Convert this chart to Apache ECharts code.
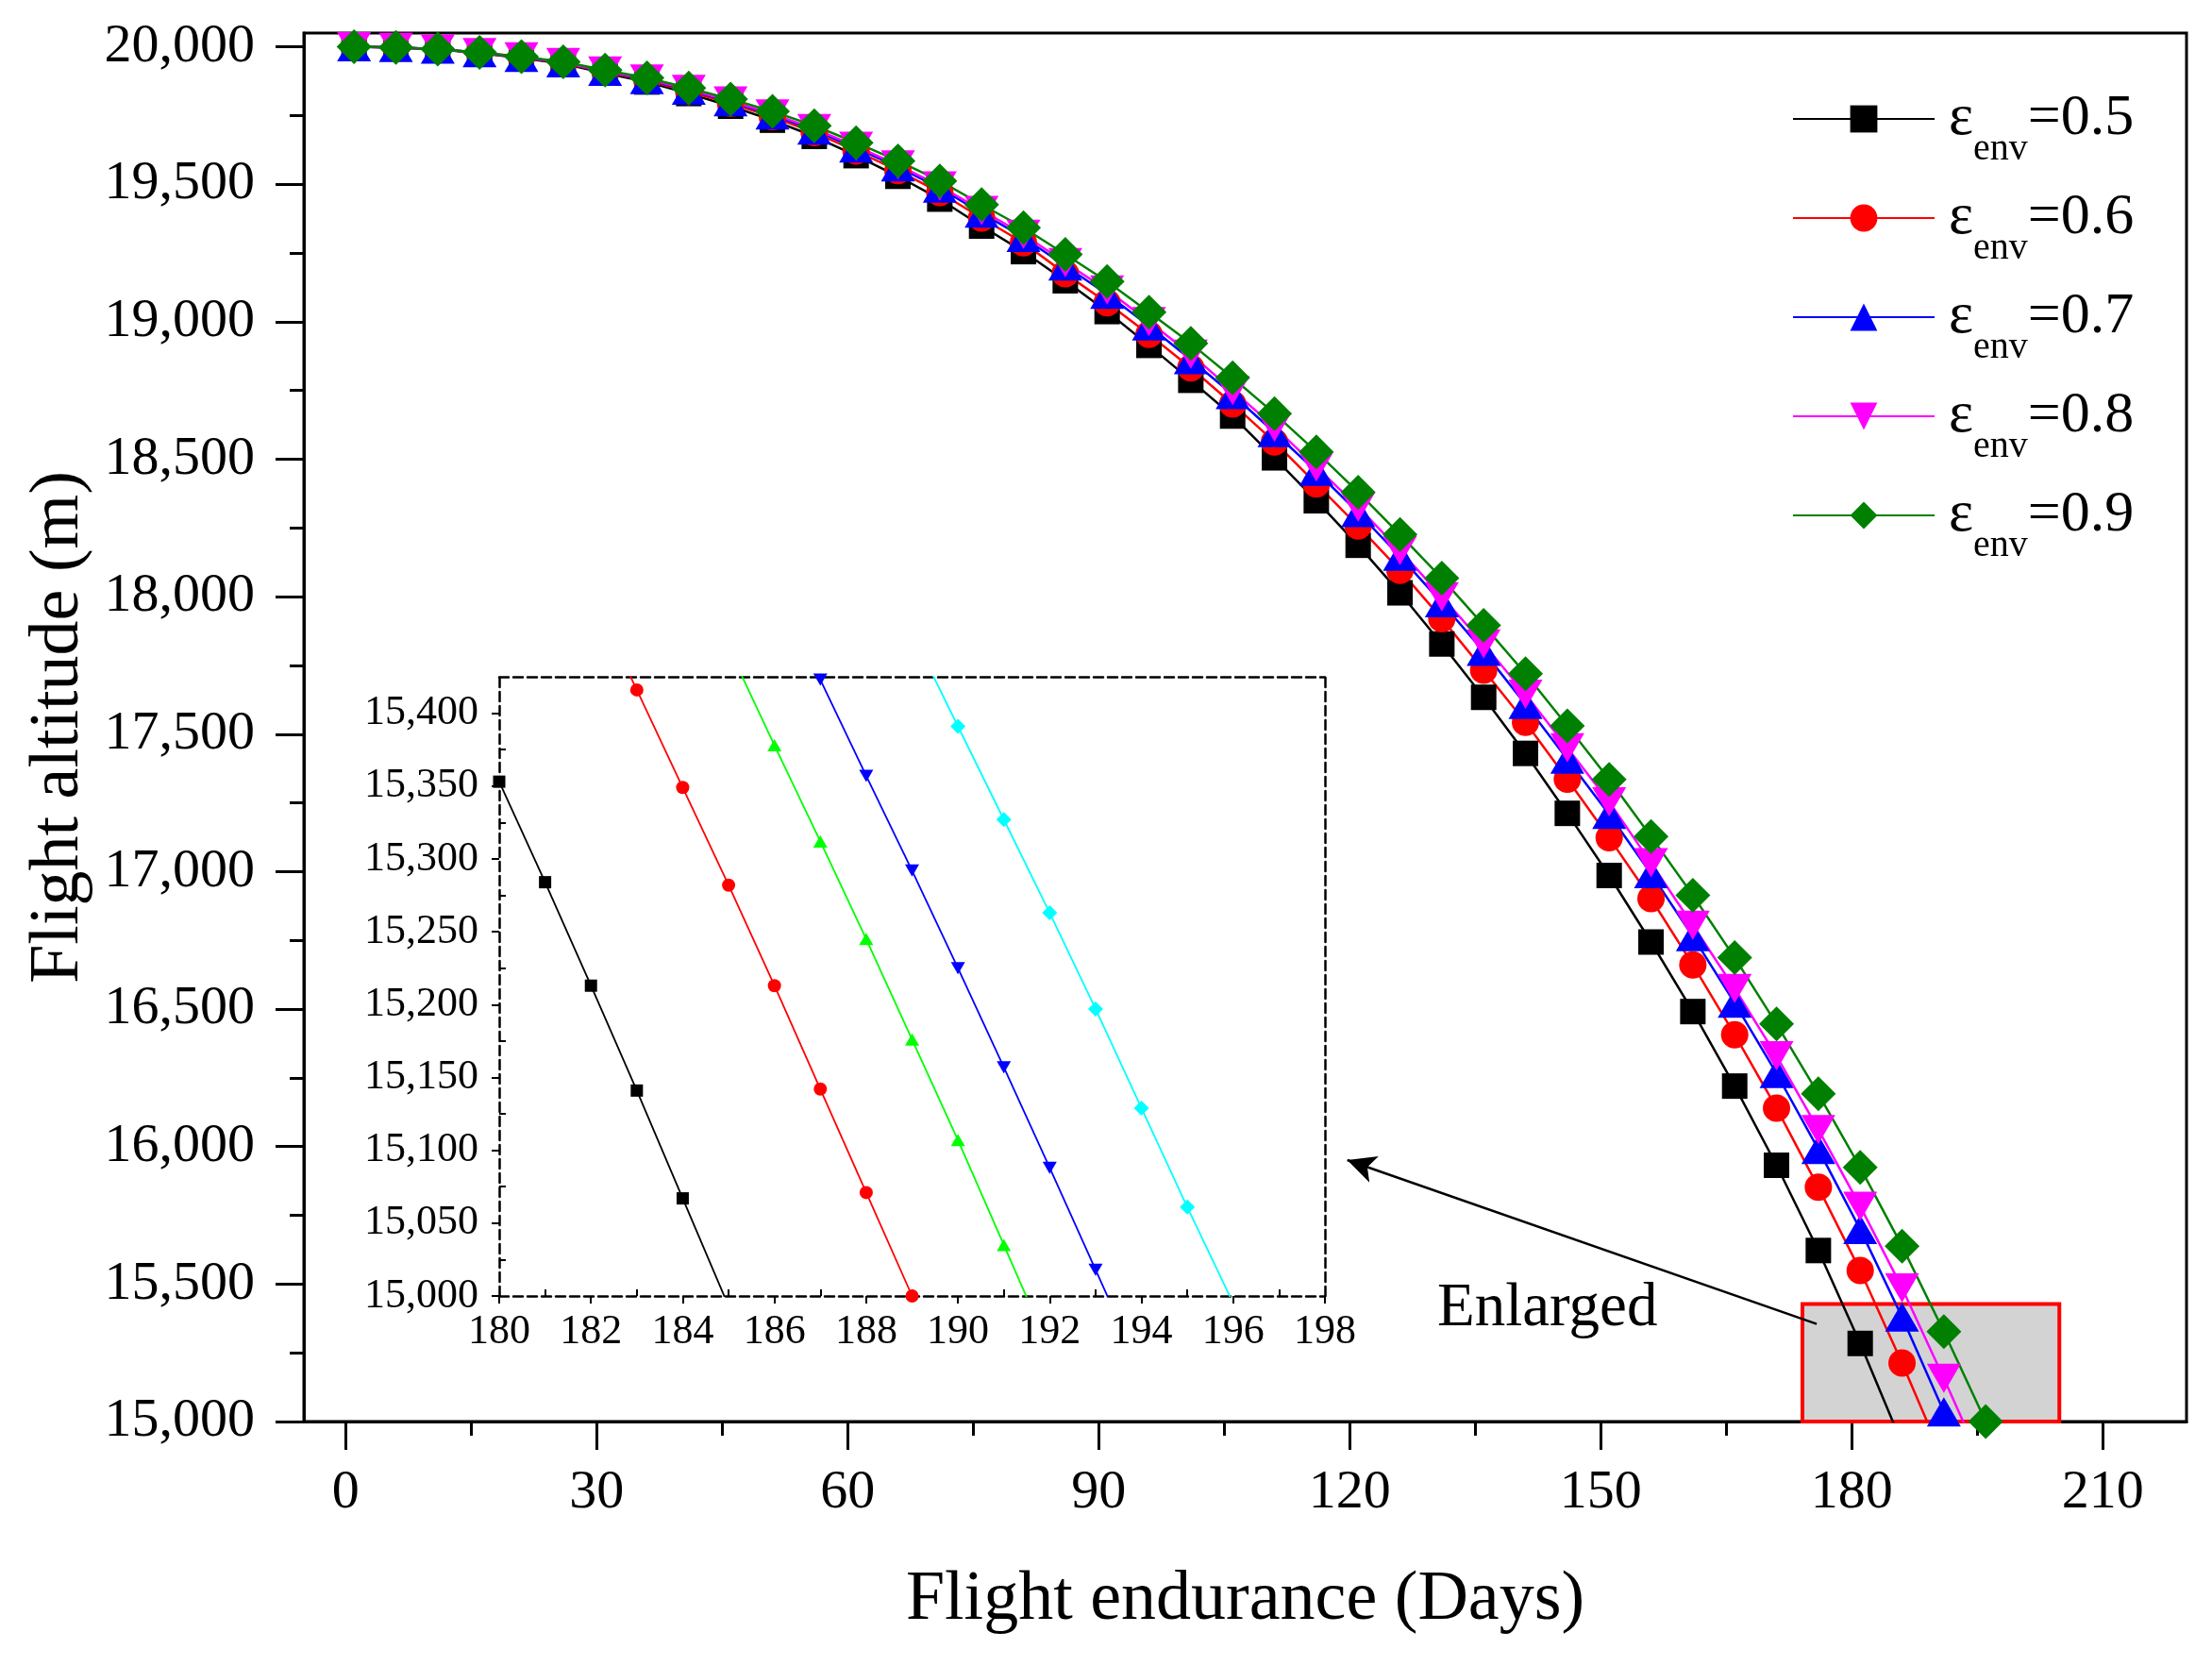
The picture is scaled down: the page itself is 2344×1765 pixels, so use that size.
<!DOCTYPE html>
<html>
<head>
<meta charset="utf-8">
<title>Flight altitude vs flight endurance</title>
<script src="https://cdn.jsdelivr.net/npm/echarts@6/dist/echarts.min.js"></script>
<style>
html, body { margin: 0; padding: 0; background: #fff; }
#chart { width: 2344px; height: 1765px; }
</style>
</head>
<body>
<div id="chart"></div>
<script>
// ---- data ----
var days = [1, 6, 11, 16, 21, 26, 31, 36, 41, 46, 51, 56, 61, 66, 71, 76, 81, 86, 91, 96,
	101, 106, 111, 116, 121, 126, 131, 136, 141, 146, 151, 156, 161, 166, 171, 176, 181, 186, 191, 196];

var alt05 = [20000, 19998, 19991, 19977, 19959, 19938, 19904, 19872, 19830, 19784,
	19733, 19674, 19604, 19529, 19446, 19348, 19255, 19149, 19037, 18914,
	18787, 18657, 18505, 18349, 18187, 18014, 17828, 17634, 17430, 17212,
	16986, 16744, 16491, 16220, 15932, 15622, 15284, 14920];
var alt06 = [20000, 19998, 19991, 19978, 19961, 19941, 19908, 19878, 19837, 19794,
	19745, 19688, 19621, 19550, 19470, 19377, 19287, 19175, 19069, 18954,
	18832, 18701, 18563, 18410, 18257, 18096, 17920, 17733, 17543, 17336,
	17123, 16902, 16661, 16407, 16140, 15852, 15549, 15213, 14858];
var alt07 = [20000, 19998, 19992, 19979, 19962, 19942, 19911, 19881, 19842, 19800,
	19752, 19697, 19632, 19563, 19486, 19395, 19307, 19203, 19100, 18985,
	18862, 18735, 18597, 18456, 18306, 18147, 17978, 17801, 17608, 17409,
	17208, 16993, 16764, 16522, 16266, 15990, 15699, 15380, 15035, 14710];
var alt08 = [20000, 19998, 19992, 19979, 19963, 19943, 19912, 19883, 19845, 19803,
	19756, 19702, 19638, 19570, 19494, 19405, 19318, 19215, 19115, 19000,
	18882, 18750, 18617, 18472, 18326, 18168, 18000, 17828, 17645, 17450,
	17254, 17032, 16805, 16575, 16330, 16062, 15783, 15486, 15157, 14816];
var alt09 = [20000, 19998, 19992, 19980, 19964, 19945, 19915, 19887, 19850, 19810,
	19765, 19713, 19651, 19585, 19512, 19426, 19342, 19245, 19146, 19035,
	18921, 18796, 18666, 18527, 18380, 18226, 18067, 17896, 17720, 17530,
	17335, 17128, 16914, 16687, 16446, 16192, 15924, 15638, 15327, 15000];

// enlarged part, daily values
var zoomDays05 = [180, 181, 182, 183, 184, 185];
var zoomAlt05 = [15353, 15284, 15213, 15141, 15067, 14993];
var zoomDays06 = [182, 183, 184, 185, 186, 187, 188, 189, 190];
var zoomAlt06 = [15482, 15416, 15349, 15282, 15213, 15142, 15071, 15000, 14928];
var zoomDays07 = [185, 186, 187, 188, 189, 190, 191, 192];
var zoomAlt07 = [15445, 15378, 15312, 15245, 15176, 15107, 15035, 14963];
var zoomDays08 = [186, 187, 188, 189, 190, 191, 192, 193, 194];
var zoomAlt08 = [15490, 15423, 15357, 15292, 15225, 15157, 15088, 15018, 14948];
var zoomDays09 = [189, 190, 191, 192, 193, 194, 195, 196];
var zoomAlt09 = [15455, 15391, 15327, 15263, 15197, 15129, 15061, 14995];

var envValues = ['0.5', '0.6', '0.7', '0.8', '0.9'];

// ticks
var xMajor = [0, 30, 60, 90, 120, 150, 180, 210];
var xMinor = [15, 45, 75, 105, 135, 165, 195];
var yMajor = [15000, 15500, 16000, 16500, 17000, 17500, 18000, 18500, 19000, 19500, 20000];
var yMinor = [15250, 15750, 16250, 16750, 17250, 17750, 18250, 18750, 19250, 19750];
var zoomXMajor = [180, 182, 184, 186, 188, 190, 192, 194, 196, 198];
var zoomXMinor = [181, 183, 185, 187, 189, 191, 193, 195, 197];
var zoomYMajor = [15000, 15050, 15100, 15150, 15200, 15250, 15300, 15350, 15400];
var zoomYMinor = [15025, 15075, 15125, 15175, 15225, 15275, 15325, 15375];

// enlarged box and arrow (annotation, data coords)
var boxFrom = [174.1, 15000];
var boxTo = [204.8, 15427];
var arrowFrom = [175.8, 15355];
var arrowTo = [119.7, 15951];

var FONT = '"Liberation Serif", "Times New Roman", serif';

function pairs(xs, ys) {
	var out = [];
	for (var i = 0; i < ys.length; i++) {
		out.push([xs[i], ys[i]]);
	}
	return out;
}

/**
 * plain axis used only to draw extra ticks
 */
function tickAxis(gridIndex, min, max, position, values, length, inside) {
	return {
		type: 'value', gridIndex: gridIndex, min: min, max: max, position: position,
		axisLine: { show: false, onZero: false },
		axisTick: { show: true, customValues: values, length: length, inside: inside,
			lineStyle: { color: '#000', width: gridIndex === 0 ? 3 : 2 } },
		axisLabel: { show: false },
		splitLine: { show: false }
	};
}

/**
 * dashed frame line of the enlarged part
 */
function borderAxis(gridIndex, min, max, position) {
	return {
		type: 'value', gridIndex: gridIndex, min: min, max: max, position: position,
		axisLine: { show: true, onZero: false, lineStyle: { color: '#000', width: 2.5, type: 'dashed' } },
		axisTick: { show: false },
		axisLabel: { show: false },
		splitLine: { show: false }
	};
}

var mainColors = ['#000000', '#ff0000', '#0000ff', '#ff00ff', '#008000'];
var zoomColors = ['#000000', '#ff0000', '#00ff00', '#0000ff', '#00ffff'];
var symbols = ['rect', 'circle', 'triangle', 'triangle', 'diamond'];
var mainSizes = [27, 29, [36, 31], [36, 31], 37];
var zoomSizes = [13, 14, [15, 13], [15, 13], 16];
var rotates = [0, 0, 0, 180, 0];

var mainData = [pairs(days, alt05), pairs(days, alt06), pairs(days, alt07), pairs(days, alt08), pairs(days, alt09)];
var zoomData = [pairs(zoomDays05, zoomAlt05), pairs(zoomDays06, zoomAlt06), pairs(zoomDays07, zoomAlt07),
	pairs(zoomDays08, zoomAlt08), pairs(zoomDays09, zoomAlt09)];

var series = [];
for (var i = 0; i < 5; i++) {
	var s = {
		name: envValues[i],
		type: 'line',
		xAxisIndex: 0, yAxisIndex: 0,
		data: mainData[i],
		symbol: symbols[i],
		symbolSize: mainSizes[i],
		symbolRotate: rotates[i],
		showAllSymbol: true,
		lineStyle: { color: mainColors[i], width: 2.5 },
		itemStyle: { color: mainColors[i] },
		emphasis: { disabled: true },
		z: 3
	};
	if (i === 0) {
		s.markArea = {
			silent: true,
			itemStyle: { color: '#d3d3d3', opacity: 1, borderColor: '#ff0000', borderWidth: 4 },
			data: [[{ coord: boxFrom }, { coord: boxTo }]]
		};
	}
	if (i === 4) {
		s.markLine = {
			silent: true,
			symbol: ['none', 'arrow'],
			symbolSize: [22, 30],
			label: { show: false },
			lineStyle: { color: '#000', width: 2.5, type: 'solid' },
			data: [[{ coord: arrowFrom }, { coord: arrowTo }]]
		};
	}
	series.push(s);
}
for (var j = 0; j < 5; j++) {
	series.push({
		name: 'enlarged ' + envValues[j],
		type: 'line',
		xAxisIndex: 2, yAxisIndex: 2,
		data: zoomData[j],
		symbol: symbols[j],
		symbolSize: zoomSizes[j],
		symbolRotate: rotates[j],
		lineStyle: { color: zoomColors[j], width: 1.8 },
		itemStyle: { color: zoomColors[j] },
		emphasis: { disabled: true },
		z: 3
	});
}

var chart = echarts.init(document.getElementById('chart'));
chart.setOption({
	animation: false,
	backgroundColor: '#fff',
	textStyle: { fontFamily: FONT, color: '#000' },
	grid: [{
		left: 322, right: 27, top: 35, bottom: 259,
		show: true, borderColor: '#000', borderWidth: 3,
		outerBoundsMode: 'none'
	}, {
		left: 529, right: 940, top: 717, bottom: 392,
		outerBoundsMode: 'none'
	}],
	xAxis: [{
		type: 'value', gridIndex: 0, min: -5, max: 220, position: 'bottom',
		name: 'Flight endurance (Days)', nameLocation: 'middle', nameGap: 153,
		nameTextStyle: { fontSize: 74, fontFamily: FONT, color: '#000' },
		axisLine: { onZero: false, lineStyle: { color: '#000', width: 3 } },
		axisTick: { customValues: xMajor, length: 30, lineStyle: { color: '#000', width: 3 } },
		axisLabel: { customValues: xMajor, fontSize: 58, fontFamily: FONT, color: '#000', margin: 47 },
		splitLine: { show: false }
	},
	tickAxis(0, -5, 220, 'bottom', xMinor, 15, false),
	{
		type: 'value', gridIndex: 1, min: 180, max: 198, position: 'bottom',
		axisLine: { onZero: false, lineStyle: { color: '#000', width: 2.5, type: 'dashed' } },
		axisTick: { customValues: zoomXMajor, length: 8, lineStyle: { color: '#000', width: 2 } },
		axisLabel: { customValues: zoomXMajor, fontSize: 44, fontFamily: FONT, color: '#000', margin: 16 },
		splitLine: { show: false }
	},
	tickAxis(1, 180, 198, 'bottom', zoomXMinor, 7, true),
	borderAxis(1, 180, 198, 'top')
	],
	yAxis: [{
		type: 'value', gridIndex: 0, min: 15000, max: 20050, position: 'left',
		name: 'Flight altitude (m)', nameLocation: 'middle', nameGap: 221,
		nameTextStyle: { fontSize: 74, fontFamily: FONT, color: '#000' },
		axisLine: { onZero: false, lineStyle: { color: '#000', width: 3 } },
		axisTick: { customValues: yMajor, length: 30, lineStyle: { color: '#000', width: 3 } },
		axisLabel: {
			customValues: yMajor, fontSize: 58, fontFamily: FONT, color: '#000', margin: 52,
			formatter: function (v) { return echarts.format.addCommas(v); }
		},
		splitLine: { show: false }
	},
	tickAxis(0, 15000, 20050, 'left', yMinor, 15, false),
	{
		type: 'value', gridIndex: 1, min: 15000, max: 15425, position: 'left',
		axisLine: { onZero: false, lineStyle: { color: '#000', width: 2.5, type: 'dashed' } },
		axisTick: { customValues: zoomYMajor, length: 8, lineStyle: { color: '#000', width: 2 } },
		axisLabel: {
			customValues: zoomYMajor, fontSize: 44, fontFamily: FONT, color: '#000', margin: 22,
			formatter: function (v) { return echarts.format.addCommas(v); }
		},
		splitLine: { show: false }
	},
	tickAxis(1, 15000, 15425, 'left', zoomYMinor, 7, true),
	borderAxis(1, 15000, 15425, 'right')
	],
	legend: {
		data: envValues,
		orient: 'vertical',
		left: 1899, top: 95,
		padding: 0,
		itemWidth: 150, itemHeight: 36, itemGap: 22,
		selectedMode: false,
		formatter: function (name) {
			return '{e|\u03b5}{s|env}{v|=' + name + '}';
		},
		textStyle: {
			fontFamily: FONT, color: '#000',
			rich: {
				e: { fontSize: 62, fontFamily: FONT, lineHeight: 104, verticalAlign: 'middle', padding: [0, 0, 0, 10] },
				s: { fontSize: 40, fontFamily: FONT, lineHeight: 40, verticalAlign: 'bottom' },
				v: { fontSize: 62, fontFamily: FONT, lineHeight: 104, verticalAlign: 'middle' }
			}
		}
	},
	graphic: [{
		type: 'text', left: 1523, top: 1354, silent: true,
		style: { text: 'Enlarged', font: '65px ' + FONT, fill: '#000' }
	}],
	series: series
});
</script>
</body>
</html>
